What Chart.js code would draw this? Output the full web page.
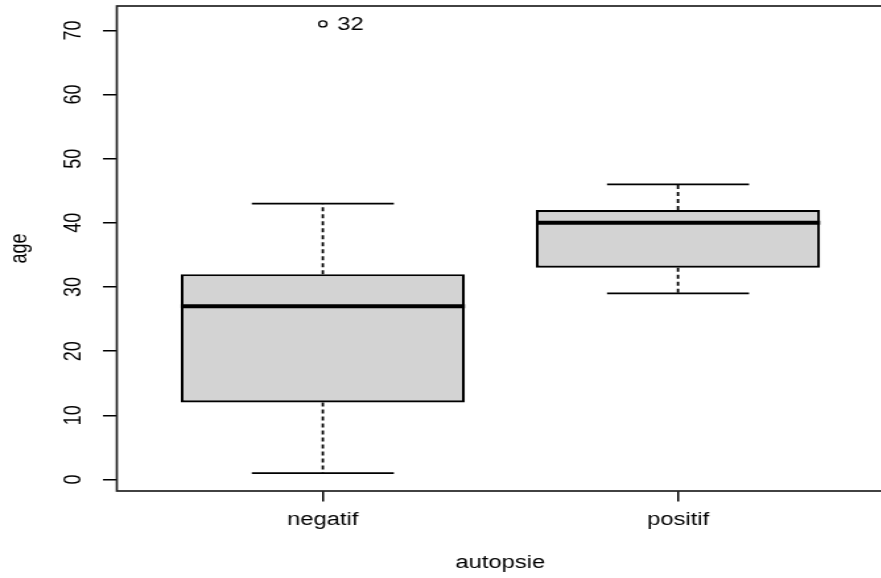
<!DOCTYPE html>
<html>
<head>
<meta charset="utf-8">
<script src="https://cdn.jsdelivr.net/npm/chart.js@4.4.1/dist/chart.umd.min.js"></script>
<style>
  html, body { margin: 0; padding: 0; background: #fff; overflow: hidden; }
  /* le graphique d'origine est étiré horizontalement */
  #wrap { width: 675px; height: 578px; transform: scaleX(1.32); transform-origin: 0 0; }
</style>
</head>
<body>
<div id="wrap"><canvas id="boxChart"></canvas></div>
<script>
// Données du boxplot age ~ autopsie
const categories = ['negatif', 'positif'];
const lowerWhisker = [1, 29];
const q1 = [12, 33];
const median = [27, 40];
const q3 = [32, 42];
const upperWhisker = [43, 46];
const outliers = [[71], []];
const outlierLabels = [['32'], []];
const yTicks = [0, 10, 20, 30, 40, 50, 60, 70];

const police = { family: "'Liberation Sans', Arial, sans-serif", size: 18 };

// Moustaches, médianes et étiquettes des valeurs extrêmes
const boxPlugin = {
  id: 'boxPlugin',
  afterDatasetsDraw(chart) {
    const ctx = chart.ctx;
    const y = chart.scales.y;
    const bars = chart.getDatasetMeta(0).data;
    ctx.save();
    ctx.strokeStyle = '#000';
    bars.forEach((bar, i) => {
      const cx = bar.x;
      const half = bar.width / 2;

      // moustaches en pointillés
      ctx.lineWidth = 1.8;
      ctx.setLineDash([4, 3]);
      ctx.beginPath();
      ctx.moveTo(cx, y.getPixelForValue(q3[i]));
      ctx.lineTo(cx, y.getPixelForValue(upperWhisker[i]));
      ctx.moveTo(cx, y.getPixelForValue(q1[i]));
      ctx.lineTo(cx, y.getPixelForValue(lowerWhisker[i]));
      ctx.stroke();

      // extrémités
      ctx.setLineDash([]);
      ctx.lineWidth = 1.7;
      ctx.beginPath();
      [upperWhisker[i], lowerWhisker[i]].forEach(v => {
        const py = y.getPixelForValue(v);
        ctx.moveTo(cx - half / 2, py);
        ctx.lineTo(cx + half / 2, py);
      });
      ctx.stroke();

      // médiane
      ctx.lineWidth = 4;
      ctx.beginPath();
      const my = y.getPixelForValue(median[i]);
      ctx.moveTo(cx - half, my);
      ctx.lineTo(cx + half, my);
      ctx.stroke();

      // étiquettes des points extrêmes
      ctx.fillStyle = '#000';
      ctx.font = police.size + 'px ' + police.family;
      ctx.textAlign = 'left';
      ctx.textBaseline = 'middle';
      outliers[i].forEach((v, k) => {
        ctx.fillText(outlierLabels[i][k], cx + 11, y.getPixelForValue(v) + 1);
      });
    });

    // cadre
    const a = chart.chartArea;
    ctx.lineWidth = 1.7;
    ctx.strokeStyle = '#222';
    ctx.strokeRect(a.left, a.top, a.right - a.left, a.bottom - a.top);
    ctx.restore();
  }
};

const ctx = document.getElementById('boxChart').getContext('2d');

new Chart(ctx, {
  type: 'bar',
  data: {
    datasets: [{
      label: 'boîte',
      data: categories.map((c, i) => ({ x: i + 1, y: [q1[i], q3[i]] })),
      backgroundColor: '#d3d3d3',
      borderColor: '#000',
      borderWidth: 2.2,
      borderSkipped: false,
      categoryPercentage: 0.8,
      barPercentage: 1
    }, {
      type: 'scatter',
      label: 'extrêmes',
      data: outliers.flatMap((vals, i) => vals.map(v => ({ x: i + 1, y: v }))),
      pointStyle: 'circle',
      pointRadius: 3,
      borderColor: '#000',
      backgroundColor: 'rgba(0,0,0,0)',
      borderWidth: 1.3
    }]
  },
  options: {
    responsive: true,
    maintainAspectRatio: false,
    animation: false,
    events: [],
    layout: { padding: { top: 6, right: 1, left: 0, bottom: 0 } },
    plugins: {
      legend: { display: false },
      tooltip: { enabled: false }
    },
    scales: {
      x: {
        type: 'linear',
        min: 0.42,
        max: 2.58,
        offset: false,
        afterBuildTicks: s => { s.ticks = categories.map((c, i) => ({ value: i + 1 })); },
        afterFit: s => { s.height = 87; s.paddingLeft = 0; s.paddingRight = 0; },
        ticks: {
          callback: v => categories[v - 1],
          color: '#000',
          font: police,
          padding: 8
        },
        grid: { offset: false, drawOnChartArea: false, drawTicks: true, tickLength: 10.5, color: '#000', lineWidth: 1.5 },
        border: { display: false },
        title: { display: true, text: 'autopsie', color: '#000', font: police, padding: { top: 0, bottom: 4 } }
      },
      y: {
        min: -1.8,
        max: 73.8,
        afterBuildTicks: s => { s.ticks = yTicks.map(v => ({ value: v })); },
        afterFit: s => { s.width = 88.5; s.paddingTop = 0; s.paddingBottom = 0; },
        ticks: {
          color: '#000',
          font: police,
          minRotation: 90,
          maxRotation: 90,
          crossAlign: 'center',
          padding: 12
        },
        grid: { drawOnChartArea: false, drawTicks: true, tickLength: 10.5, color: '#000', lineWidth: 1.5 },
        border: { display: false },
        title: { display: true, text: 'age', color: '#000', font: police, padding: { top: 4.5, bottom: 0 } }
      }
    }
  },
  plugins: [boxPlugin]
});
</script>
</body>
</html>
